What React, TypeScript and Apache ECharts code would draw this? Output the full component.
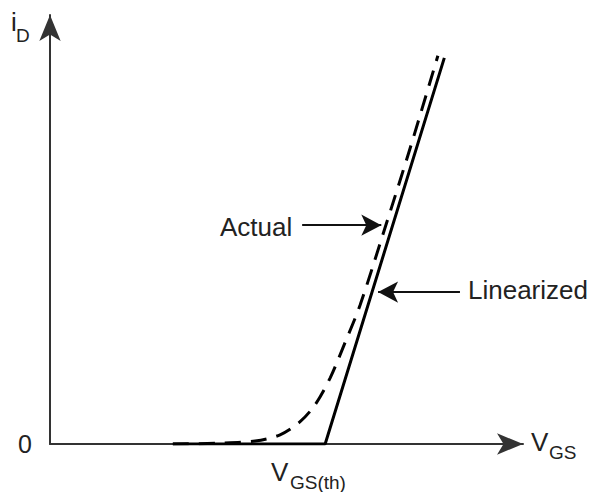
import React, { useEffect, useRef } from "react";
import * as echarts from "echarts";

// Schematic units (VGS on x, iD on y)
const linearizedX = [2.67, 5.98, 8.57];
const linearizedY = [0, 0, 9.28];

const actualX = [2.67, 3.7, 4.46, 5.0, 5.43, 5.76, 6.09, 6.41, 6.74, 7.28, 7.83, 8.43];
const actualY = [0, 0.02, 0.07, 0.22, 0.53, 0.94, 1.59, 2.43, 3.34, 5.19, 7.12, 9.33];

// annotation arrows: [fromX, fromY, toX, toY]
const actualArrow = [5.48, 5.26, 7.2, 5.26];
const linearizedArrow = [8.91, 3.65, 7.13, 3.65];

const yTickLabels = ["0"];

const FONT = "'Liberation Sans', Arial, Helvetica, sans-serif";
const TXT = "#222";

export default function App() {
  const ref = useRef<HTMLDivElement>(null);
  useEffect(() => {
    document.body.style.margin = "0";
    const chart = echarts.init(ref.current!, null, { renderer: "svg" });
    const lin = linearizedX.map((x, i) => [x, linearizedY[i]]);
    const act = actualX.map((x, i) => [x, actualY[i]]);
    const axisCommon = {
      type: "value",
      min: 0,
      interval: 10,
      splitLine: { show: false },
      axisTick: { show: false },
      axisLine: {
        show: true,
        symbol: ["none", "arrow"],
        symbolSize: [16, 26],
        lineStyle: { color: "#333", width: 2 },
      },
    };
    const t = (text: string, x: number, y: number, size: number) => ({
      type: "text",
      x,
      y,
      style: {
        text,
        fontSize: size,
        fontFamily: FONT,
        fill: TXT,
        textVerticalAlign: "middle",
        verticalAlign: "middle",
      },
    });
    chart.setOption({
      animation: false,
      grid: { left: 50, right: 73, top: 15, bottom: 48 },
      xAxis: { ...axisCommon, max: 10.28, axisLabel: { show: false } },
      yAxis: {
        ...axisCommon,
        max: 10.31,
        axisLabel: {
          show: true,
          margin: 18,
          fontSize: 25,
          fontFamily: FONT,
          color: TXT,
          formatter: (v: number) => (v === 0 ? yTickLabels[0] : ""),
        },
      },
      series: [
        {
          type: "line",
          name: "Linearized",
          data: lin,
          symbol: "none",
          lineStyle: { color: "#000", width: 3 },
          z: 3,
        },
        {
          type: "line",
          name: "Actual",
          data: act,
          symbol: "none",
          smooth: 0.3,
          lineStyle: { color: "#000", width: 3, type: [16, 10] },
          z: 4,
          markLine: {
            silent: true,
            symbol: ["none", "arrow"],
            symbolSize: [16, 20],
            label: { show: false },
            lineStyle: { color: "#111", width: 2, type: "solid" },
            data: [
              [
                { coord: [actualArrow[0], actualArrow[1]] },
                { coord: [actualArrow[2], actualArrow[3]] },
              ],
              [
                { coord: [linearizedArrow[0], linearizedArrow[1]] },
                { coord: [linearizedArrow[2], linearizedArrow[3]] },
              ],
            ],
          },
        },
      ],
      graphic: [
        t("i", 11, 22, 26),
        t("D", 16, 35, 19),
        t("Actual", 220, 227, 26),
        t("Linearized", 468, 290, 26),
        t("V", 531, 442, 26),
        t("GS", 549, 452, 19),
        t("V", 271, 472, 26),
        t("GS(th)", 290, 482, 19),
      ],
    });
    return () => chart.dispose();
  }, []);
  return <div ref={ref} style={{ width: 596, height: 492 }} />;
}
